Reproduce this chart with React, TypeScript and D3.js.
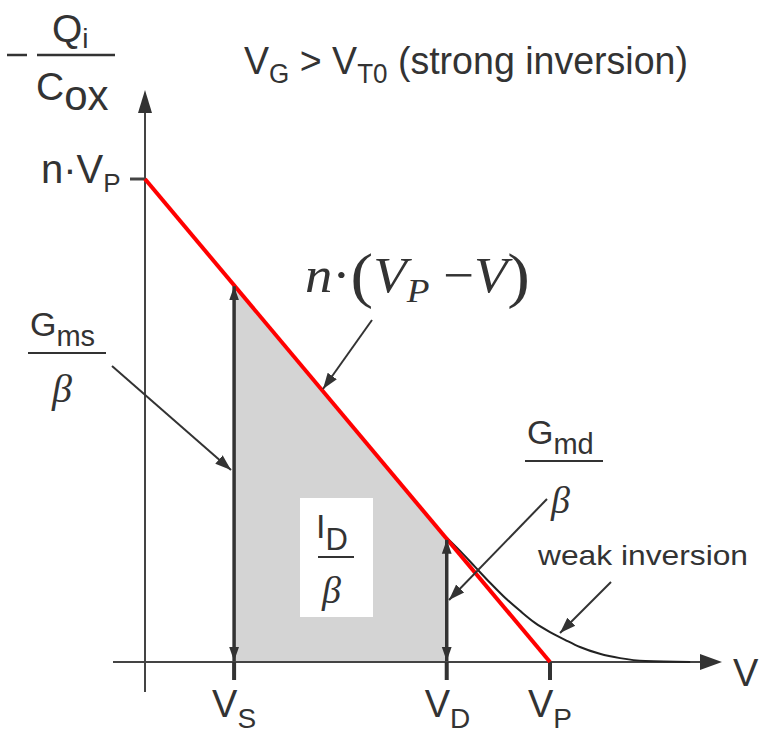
import React from "react";
import * as d3 from "d3";

// Normalised voltage axis: V_P = 1; charge axis: n·V_P = 1
const markerNames = ["S", "D", "P"];
const markerV = [0.22, 0.745, 1.0];

// Strong-inversion asymptote n·(V_P − V)
const strongV = [0, 1];
const strongQ = [1, 0];

// Full charge curve leaving the asymptote near V_D (weak inversion tail)
const weakV = [0.743, 0.778, 0.815, 0.852, 0.889, 0.926, 0.963, 1.0, 1.037, 1.074, 1.123, 1.173, 1.235, 1.346];
const weakQ = [0.259, 0.23, 0.197, 0.164, 0.133, 0.106, 0.081, 0.062, 0.046, 0.031, 0.017, 0.008, 0.002, 0.0];

const W = 759;
const H = 735;
const INK = "#333";
const SANS = "'Liberation Sans', Arial, sans-serif";
const SERIF = "'Liberation Serif', 'Times New Roman', serif";

export default function App() {
  const x = d3.scaleLinear().domain([0, 1]).range([145, 550]);
  const y = d3.scaleLinear().domain([0, 1]).range([662, 179]);

  const lineGen = d3
    .line<[number, number]>()
    .x((d) => x(d[0]))
    .y((d) => y(d[1]));
  const smooth = d3
    .line<[number, number]>()
    .x((d) => x(d[0]))
    .y((d) => y(d[1]))
    .curve(d3.curveMonotoneX);

  const strongPts = strongV.map((v, i) => [v, strongQ[i]] as [number, number]);
  const weakPts = weakV.map((v, i) => [v, weakQ[i]] as [number, number]);

  const qAt = (v: number) => strongQ[0] + ((strongQ[1] - strongQ[0]) * (v - strongV[0])) / (strongV[1] - strongV[0]);
  const vs = markerV[0];
  const vd = markerV[1];
  const area = d3
    .area<[number, number]>()
    .x((d) => x(d[0]))
    .y0(y(0))
    .y1((d) => y(d[1]));
  const shaded: [number, number][] = [
    [vs, qAt(vs)],
    [vd, qAt(vd)],
  ];

  const x0 = x(0);
  const y0 = y(0);

  return (
    <svg width={W} height={H} style={{ position: "absolute", left: 0, top: 0, background: "#fff" }}>
      <defs>
        <marker id="headBig" viewBox="0 0 10 10" refX="10" refY="5" markerWidth="14" markerHeight="14" markerUnits="userSpaceOnUse" orient="auto-start-reverse">
          <path d="M0,1.5 L10,5 L0,8.5 z" fill={INK} />
        </marker>
        <marker id="headPtr" viewBox="0 0 10 10" refX="10" refY="5" markerWidth="16" markerHeight="16" markerUnits="userSpaceOnUse" orient="auto">
          <path d="M0,1.5 L10,5 L0,8.5 z" fill={INK} />
        </marker>
      </defs>

      {/* shaded integral I_D / β */}
      <path d={area(shaded) ?? ""} fill="#d4d4d4" />

      {/* axes */}
      <line x1={113} y1={y0} x2={712} y2={y0} stroke="#444" strokeWidth={2} />
      <path d={`M${722},${y0} L${700},${y0 - 8} L${700},${y0 + 8} z`} fill="#333" />
      <line x1={x0} y1={692} x2={x0} y2={110} stroke="#444" strokeWidth={2} />
      <path d={`M${x0},${90} L${x0 - 7},${113} L${x0 + 7},${113} z`} fill="#333" />

      {/* ticks */}
      <line x1={130} y1={y(1)} x2={x0} y2={y(1)} stroke="#444" strokeWidth={3} />
      {markerV.map((v, i) => (
        <line key={i} x1={x(v)} y1={y0} x2={x(v)} y2={y0 + 18} stroke="#333" strokeWidth={4} />
      ))}

      {/* weak-inversion curve */}
      <path d={smooth(weakPts) ?? ""} fill="none" stroke="#222" strokeWidth={2} />

      {/* strong-inversion line */}
      <path d={lineGen(strongPts) ?? ""} fill="none" stroke="#ff0000" strokeWidth={4} />

      {/* G_ms/β and G_md/β double arrows */}
      {[vs, vd].map((v, i) => (
        <line
          key={i}
          x1={x(v)}
          y1={y(qAt(v)) + 1}
          x2={x(v)}
          y2={y0 - 1}
          stroke="#333"
          strokeWidth={3.5}
          markerStart="url(#headBig)"
          markerEnd="url(#headBig)"
        />
      ))}

      {/* pointer arrows */}
      <line x1={112} y1={366} x2={231} y2={470} stroke="#333" strokeWidth={2} markerEnd="url(#headPtr)" />
      <line x1={547} y1={499} x2={449} y2={600} stroke="#333" strokeWidth={2} markerEnd="url(#headPtr)" />
      <line x1={611} y1={582} x2={560} y2={633} stroke="#333" strokeWidth={2} markerEnd="url(#headPtr)" />
      <line x1={372} y1={320} x2={323} y2={389} stroke="#333" strokeWidth={2} markerEnd="url(#headPtr)" />

      <g fill={INK} fontFamily={SANS}>
        {/* y-axis label −Q_i / C_ox */}
        <line x1={7} y1={55} x2={27} y2={55} stroke={INK} strokeWidth={2.5} />
        <text x={52} y={42} fontSize={39}>
          Q<tspan fontSize={28} dy={6}>i</tspan>
        </text>
        <line x1={37} y1={55} x2={115} y2={55} stroke={INK} strokeWidth={2.5} />
        <text x={36} y={100} fontSize={39}>
          C<tspan fontSize={42} dy={10}>ox</tspan>
        </text>

        {/* title */}
        <text x={244} y={74} fontSize={39} textLength={444} lengthAdjust="spacingAndGlyphs">
          V<tspan fontSize={27} dy={9}>G</tspan>
          <tspan dy={-9}> &gt; V</tspan>
          <tspan fontSize={27} dy={9}>T0</tspan>
          <tspan dy={-9}> (strong inversion)</tspan>
        </text>

        {/* n·V_P */}
        <text x={41} y={183} fontSize={40}>
          n·V<tspan fontSize={26} dy={9}>P</tspan>
        </text>

        {/* G_ms / β */}
        <text x={30} y={336} fontSize={34}>
          G<tspan fontSize={29} dy={10}>ms</tspan>
        </text>
        <line x1={28} y1={353} x2={106} y2={353} stroke={INK} strokeWidth={2} />

        {/* G_md / β */}
        <text x={527} y={444} fontSize={34}>
          G<tspan fontSize={29} dy={10}>md</tspan>
        </text>
        <line x1={525} y1={461} x2={603} y2={461} stroke={INK} strokeWidth={2} />

        {/* I_D / β */}
        <rect x={300} y={498} width={73} height={119} fill="#fff" />
        <text x={316} y={538} fontSize={34}>
          I<tspan fontSize={31} dy={12}>D</tspan>
        </text>
        <line x1={318} y1={557} x2={354} y2={557} stroke={INK} strokeWidth={2} />

        <text x={538} y={565} fontSize={28} textLength={210} lengthAdjust="spacingAndGlyphs">
          weak inversion
        </text>

        {/* axis marker labels */}
        {markerV.map((v, i) => (
          <text key={i} x={x(v) - 22} y={717} fontSize={38}>
            V<tspan fontSize={28} dy={11}>{markerNames[i]}</tspan>
          </text>
        ))}
        <text x={733} y={686} fontSize={38}>V</text>
      </g>

      {/* serif-italic math */}
      <g fill={INK} fontFamily={SERIF} fontStyle="italic">
        <text x={52} y={402} fontSize={40}>β</text>
        <text x={551} y={513} fontSize={38}>β</text>
        <text x={322} y={603} fontSize={38}>β</text>
        <text x={305} y={292} fontSize={50} textLength={225} lengthAdjust="spacingAndGlyphs">
          n<tspan fontStyle="normal">·</tspan>
          <tspan fontStyle="normal" fontSize={62} dy={4}>(</tspan>
          <tspan dy={-4}>V</tspan>
          <tspan fontSize={34} dy={10}>P</tspan>
          <tspan dy={-10} fontStyle="normal"> −</tspan>
          <tspan>V</tspan>
          <tspan fontStyle="normal" fontSize={62} dy={4}>)</tspan>
        </text>
      </g>
    </svg>
  );
}
